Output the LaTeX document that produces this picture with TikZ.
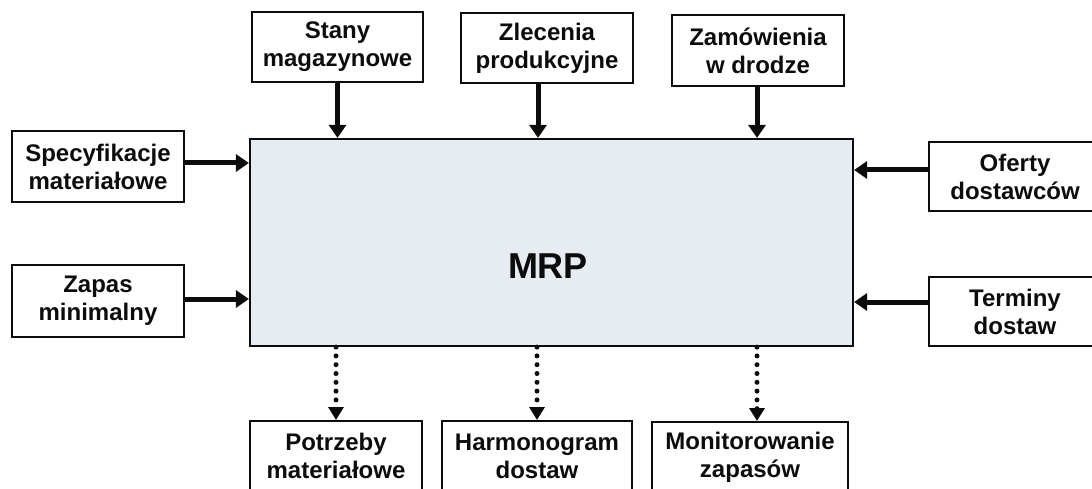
\documentclass[tikz,border=0pt]{standalone}
\usepackage{fontspec}
\setmainfont{Liberation Sans}
\usetikzlibrary{arrows.meta}
\definecolor{mrpfill}{RGB}{231,236,242}
\definecolor{ink}{RGB}{12,12,12}
\tikzset{
  infobox/.style={draw=ink, line width=2pt, fill=white, align=center,
    inner sep=0pt, minimum width=172pt, minimum height=70pt,
    font=\fontsize{24}{28}\selectfont\bfseries, text=ink},
  mrpbox/.style={draw=ink, line width=2.2pt, fill=mrpfill, inner sep=0pt,
    minimum width=603pt, minimum height=207pt},
  feed/.style={draw=ink, line width=5pt,
    -{Triangle[length=13pt,width=17pt]}},
  result/.style={draw=ink, line width=5pt, line cap=round,
    dash pattern=on 0pt off 8.8pt,
    -{Triangle[length=13pt,width=15pt]}}
}
\begin{document}
\begin{tikzpicture}[x=1pt, y=-1pt]
\useasboundingbox (0,0) rectangle (1092,489);
\clip (0,0) rectangle (1092,489);
\fill[white] (0,0) rectangle (1092,489);

% central system
\node[mrpbox] (mrp) at (551.5,242.5) {};
\node[font=\fontsize{36}{40}\selectfont\bfseries, text=ink] (mrplabel) at (548,266) {MRP};

% inputs from the left
\node[infobox, minimum height=71pt] (spec) at (98,166.5) {Specyfikacje\\materiałowe};
\node[infobox, minimum height=72pt] (zapas) at (98,301) {Zapas\\minimalny};

% inputs from above
\node[infobox, minimum width=171pt] (stany) at (337.5,47) {Stany\\magazynowe};
\node[infobox] (zlec) at (547,48) {Zlecenia\\produkcyjne};
\node[infobox, minimum height=71pt] (zam) at (758,50.5) {Zamówienia\\w drodze};

% inputs from the right
\node[infobox, minimum height=69pt] (ofer) at (1015,176.5) {Oferty\\dostawców};
\node[infobox, minimum height=69pt] (term) at (1015,311.5) {Terminy\\dostaw};

% outputs below
\node[infobox] (potrz) at (336,456) {Potrzeby\\materiałowe};
\node[infobox, minimum width=190pt] (harm) at (537,456) {Harmonogram\\dostaw};
\node[infobox, minimum width=196pt] (mon) at (750,457) {Monitorowanie\\zapasów};

% connector start points
\coordinate (sL1) at ([yshift=3.5pt]spec.east);
\coordinate (sL2) at ([yshift=2pt]zapas.east);
\coordinate (sR1) at ([yshift=6.5pt]ofer.west);
\coordinate (sR2) at ([yshift=9.5pt]term.west);
\coordinate (sT1) at (stany.south);
\coordinate (sT2) at ([xshift=-9pt]zlec.south);
\coordinate (sT3) at ([xshift=-1pt]zam.south);
\coordinate (eB1) at (potrz.north);
\coordinate (eB2) at (harm.north);
\coordinate (eB3) at ([xshift=7pt]mon.north);

% solid input arrows
\draw[feed] (sL1) -- (sL1 -| mrp.west);
\draw[feed] (sL2) -- (sL2 -| mrp.west);
\draw[feed] (sR1) -- (sR1 -| mrp.east);
\draw[feed] (sR2) -- (sR2 -| mrp.east);
\draw[feed] (sT1) -- (sT1 |- mrp.north);
\draw[feed] (sT2) -- (sT2 |- mrp.north);
\draw[feed] (sT3) -- (sT3 |- mrp.north);

% dotted output arrows
\draw[result] (eB1 |- mrp.south) -- (eB1);
\draw[result] (eB2 |- mrp.south) -- (eB2);
\draw[result] (eB3 |- mrp.south) -- (eB3);
\end{tikzpicture}
\end{document}
